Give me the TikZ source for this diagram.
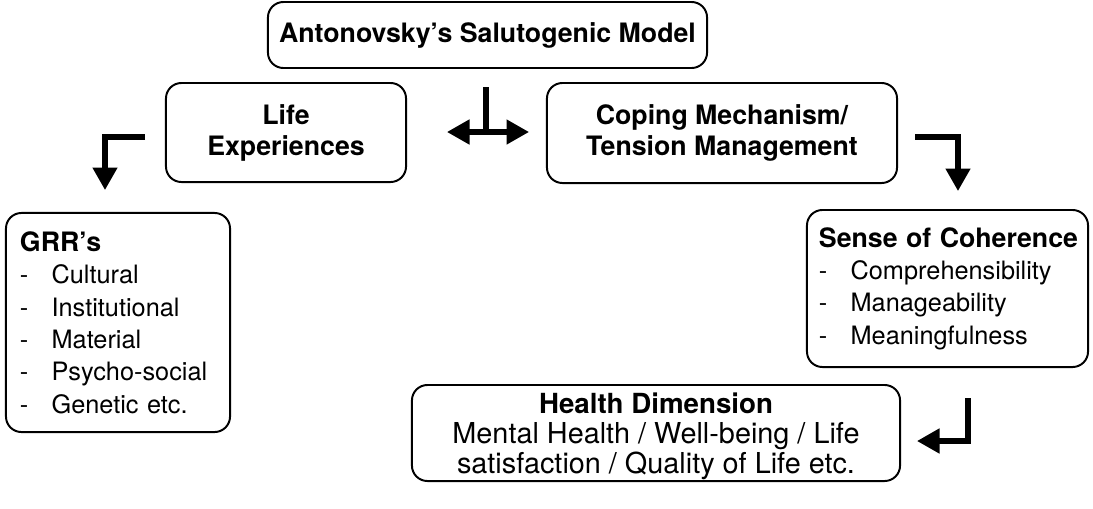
\documentclass[tikz,border=0pt]{standalone}
\usepackage{fontspec}
\setmainfont{TeX Gyre Heros}
\usetikzlibrary{arrows.meta, positioning}

\newcommand{\hd}{\fontsize{19}{22}\selectfont\bfseries}
\newcommand{\rg}{\fontsize{18}{23}\selectfont}
\newcommand{\itm}[1]{\makebox[1.25em][l]{-}#1}

\begin{document}
\begin{tikzpicture}[
  x=0.025cm, y=-0.025cm,
  box/.style={draw, line width=1.4pt, rounded corners=11pt, align=center, inner sep=0pt},
  listbox/.style={box, align=left, inner xsep=0.35cm},
  turn/.style={line width=3.6pt, -{Triangle[length=16pt, width=17pt]}},
  both/.style={line width=3.6pt, {Triangle[length=16pt, width=17pt]}-{Triangle[length=16pt, width=17pt]}}
]
\useasboundingbox (0,0) rectangle (1093,508);

% boxes
\node[box, minimum width=10.975cm, minimum height=1.65cm, font=\hd] (model) at (487.5,35) {Antonovsky's Salutogenic Model};
\node[box, minimum width=6cm, minimum height=2.475cm, font=\hd] (life) at (286,132.5) {Life\\Experiences};
\node[box, minimum width=8.75cm, minimum height=2.5cm, font=\hd] (coping) at (722,133) {Coping Mechanism/\\Tension Management};
\node[listbox, minimum width=5.6cm, minimum height=5.475cm, text width=4.9cm, font=\rg] (grr) at (118,322.5)
  {{\hd GRR's}\\ \itm{Cultural}\\ \itm{Institutional}\\ \itm{Material}\\ \itm{Psycho-social}\\ \itm{Genetic etc.}};
\node[listbox, minimum width=7.025cm, minimum height=3.925cm, inner xsep=0.3cm, text width=6.425cm, font=\rg] (soc) at (947.5,288.5)
  {\mbox{\hd Sense of Coherence}\\ \itm{Comprehensibility}\\ \itm{Manageability}\\ \itm{Meaningfulness}};
\node[box, minimum width=12.2cm, minimum height=2.4cm, text depth=-13pt, font=\fontsize{20.5}{21.5}\selectfont] (health) at (656,433)
  {{\fontsize{19.7}{22}\selectfont\bfseries Health Dimension}\\ Mental Health / Well-being / Life\\ satisfaction / Quality of Life etc.};

% free ends of the bent arrows
\coordinate (l1) at (145,137);
\coordinate (l2) at (105,190);
\coordinate (r1) at (915,137);
\coordinate (r2) at (958,191);
\coordinate (h1) at (968,398);
\coordinate (h2) at (917,441);
\coordinate (m0) at (486,87);
\coordinate (m1) at (486,134);
\coordinate (ml) at (447,132);
\coordinate (mr) at (529,132);

\draw[turn] (l1) -| (l2);
\draw[turn] (r1) -| (r2);
\draw[turn] (h1) |- (h2);
\draw[line width=3.6pt] (m0) -- (m1);
\draw[both] (ml) -- (mr);
\end{tikzpicture}
\end{document}
